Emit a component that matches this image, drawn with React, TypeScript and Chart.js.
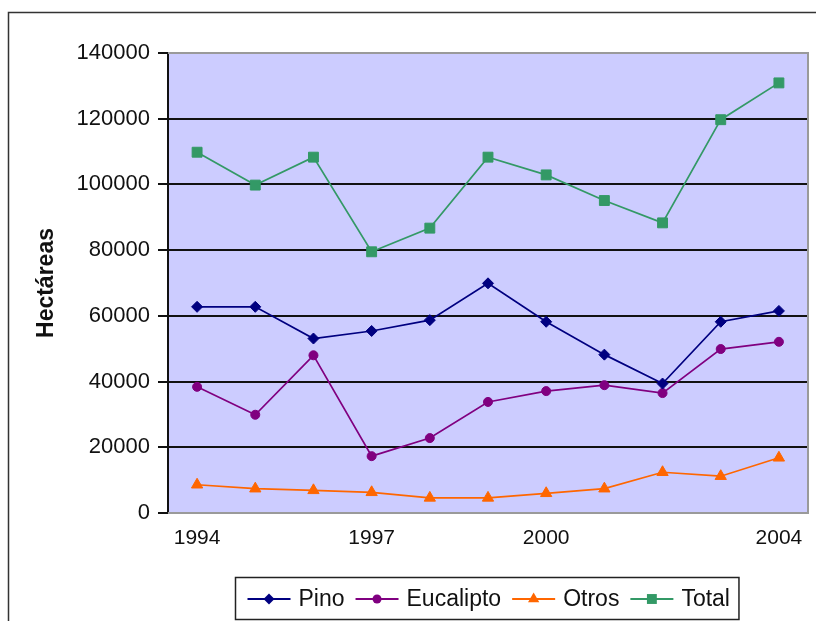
import { useEffect, useRef } from "react";
import { Chart, registerables } from "chart.js";

Chart.register(...registerables);

// Plantaciones forestales por año (hectáreas)
const years = ["1994", "1995", "1996", "1997", "1998", "1999", "2000", "2001", "2002", "2003", "2004"];
const labeledYears = ["1994", "1997", "2000", "2004"];
const pino = [62750, 62750, 53100, 55400, 58700, 69900, 58200, 48200, 39400, 58200, 61500];
const eucalipto = [38400, 29900, 48000, 17300, 22800, 33800, 37100, 38900, 36500, 49900, 52100];
const otros = [8600, 7400, 6900, 6300, 4600, 4600, 6000, 7400, 12400, 11200, 16800];
const total = [109800, 99800, 108300, 79500, 86700, 108300, 102900, 95100, 88300, 119700, 130900];
const yMax = 140000;
const yStep = 20000;

const FONT = "'Liberation Sans', Arial, sans-serif";

function markerPath(ctx: CanvasRenderingContext2D, style: string, x: number, y: number, r: number) {
  ctx.beginPath();
  if (style === "circle") {
    ctx.arc(x, y, r, 0, Math.PI * 2);
  } else if (style === "rectRot") {
    ctx.moveTo(x, y - r);
    ctx.lineTo(x + r, y);
    ctx.lineTo(x, y + r);
    ctx.lineTo(x - r, y);
    ctx.closePath();
  } else if (style === "triangle") {
    let a = 0;
    for (let i = 0; i < 3; i++) {
      const px = x + Math.sin(a) * r;
      const py = y - Math.cos(a) * r;
      if (i === 0) ctx.moveTo(px, py);
      else ctx.lineTo(px, py);
      a += (2 * Math.PI) / 3;
    }
    ctx.closePath();
  } else {
    const s = Math.SQRT1_2 * r;
    ctx.rect(x - s, y - s, 2 * s, 2 * s);
  }
}

const framePlugin = {
  id: "frame",
  beforeDraw(chart: any) {
    const { ctx, chartArea: a } = chart;
    ctx.save();
    ctx.fillStyle = "#ffffff";
    ctx.fillRect(0, 0, chart.width, chart.height);
    // outer border of the chart object
    ctx.strokeStyle = "#333333";
    ctx.lineWidth = 1.5;
    ctx.strokeRect(8.5, 12.5, chart.width + 40, chart.height + 40);
    // plot background
    ctx.fillStyle = "#ccccff";
    ctx.fillRect(a.left, a.top, a.right - a.left, a.bottom - a.top);
    ctx.restore();
  },
  beforeDatasetsDraw(chart: any) {
    const { ctx, chartArea: a } = chart;
    ctx.save();
    ctx.strokeStyle = "#9a9a9a";
    ctx.lineWidth = 2;
    ctx.beginPath();
    ctx.moveTo(a.left, a.top);
    ctx.lineTo(a.right, a.top);
    ctx.lineTo(a.right, a.bottom);
    ctx.lineTo(a.left, a.bottom);
    ctx.stroke();
    ctx.restore();
  },
  afterDraw(chart: any) {
    const ctx: CanvasRenderingContext2D = chart.ctx;
    const sets = chart.data.datasets;
    ctx.save();
    ctx.font = `23px ${FONT}`;
    const lineLen = 43;
    const gapLine = 8;
    const gapText = 11;
    const padL = 12;
    const padR = 9;
    const widths = sets.map((d: any) => ctx.measureText(d.label).width);
    let w = padL + padR;
    widths.forEach((tw: number, i: number) => {
      w += lineLen + gapLine + tw + (i < widths.length - 1 ? gapText : 0);
    });
    const cx = (chart.chartArea.left + chart.chartArea.right) / 2 - 1;
    const boxL = Math.round(cx - w / 2) + 0.5;
    const boxT = 577.5;
    const boxH = 42;
    ctx.strokeStyle = "#222222";
    ctx.lineWidth = 1.5;
    ctx.fillStyle = "#ffffff";
    ctx.fillRect(boxL, boxT, w, boxH);
    ctx.strokeRect(boxL, boxT, w, boxH);
    const my = 599;
    let x = boxL + padL;
    sets.forEach((d: any, i: number) => {
      ctx.strokeStyle = d.borderColor;
      ctx.lineWidth = 2;
      ctx.beginPath();
      ctx.moveTo(x, my);
      ctx.lineTo(x + lineLen, my);
      ctx.stroke();
      ctx.fillStyle = d.pointBackgroundColor;
      markerPath(ctx, d.pointStyle, x + lineLen / 2, my, d.pointRadius);
      ctx.fill();
      x += lineLen + gapLine;
      ctx.fillStyle = "#111111";
      ctx.textBaseline = "middle";
      ctx.textAlign = "left";
      ctx.fillText(d.label, x, my + 1);
      x += widths[i] + gapText;
    });
    ctx.restore();
  },
};

function series(label: string, data: number[], color: string, style: string, radius: number) {
  return {
    label,
    data,
    borderColor: color,
    backgroundColor: color,
    pointBackgroundColor: color,
    pointBorderColor: color,
    pointStyle: style,
    pointRadius: radius,
    pointBorderWidth: 1,
    borderWidth: 1.7,
    tension: 0,
  };
}

export default function App() {
  const ref = useRef<HTMLCanvasElement | null>(null);

  useEffect(() => {
    if (!ref.current) return;
    const chart = new Chart(ref.current, {
      type: "line",
      data: {
        labels: years,
        datasets: [
          series("Pino", pino, "#000080", "rectRot", 5.5),
          series("Eucalipto", eucalipto, "#800080", "circle", 4.5),
          series("Otros", otros, "#ff6600", "triangle", 6.5),
          series("Total", total, "#339966", "rect", 7),
        ],
      },
      options: {
        responsive: false,
        animation: false,
        layout: { padding: { top: 53, right: 6, bottom: 0, left: 0 } },
        plugins: {
          legend: { display: false },
          tooltip: { enabled: false },
          title: { display: false },
        },
        scales: {
          x: {
            type: "category",
            offset: true,
            grid: { display: false, drawTicks: true, tickLength: 11 },
            border: { display: false },
            afterFit: (s: any) => {
              s.height = 108;
            },
            ticks: {
              autoSkip: false,
              maxRotation: 0,
              padding: 2,
              color: "#111111",
              font: { family: FONT, size: 21 },
              callback: (_v: any, i: number) => (labeledYears.includes(years[i]) ? years[i] : ""),
            },
          },
          y: {
            min: 0,
            max: yMax,
            afterFit: (s: any) => {
              s.width = 168;
            },
            grid: {
              color: (c: any) =>
                c.tick && (c.tick.value === 0 || c.tick.value === yMax) ? "rgba(0,0,0,0)" : "#111111",
              lineWidth: 2,
              tickColor: "#111111",
              tickLength: 10,
              drawTicks: true,
            },
            border: { display: true, color: "#111111", width: 2 },
            ticks: {
              stepSize: yStep,
              padding: 8,
              color: "#111111",
              font: { family: FONT, size: 22 },
              callback: (v: any) => String(v),
            },
            title: {
              display: true,
              text: "Hectáreas",
              color: "#111111",
              font: { family: FONT, size: 23, weight: "bold" },
              padding: { top: 33, bottom: 0 },
            },
          },
        },
      },
      plugins: [framePlugin],
    });
    return () => chart.destroy();
  }, []);

  return (
    <div style={{ position: "fixed", left: 0, top: 0, width: 816, height: 621, background: "#fff" }}>
      <canvas ref={ref} width={816} height={621} style={{ display: "block", width: 816, height: 621 }} />
    </div>
  );
}
